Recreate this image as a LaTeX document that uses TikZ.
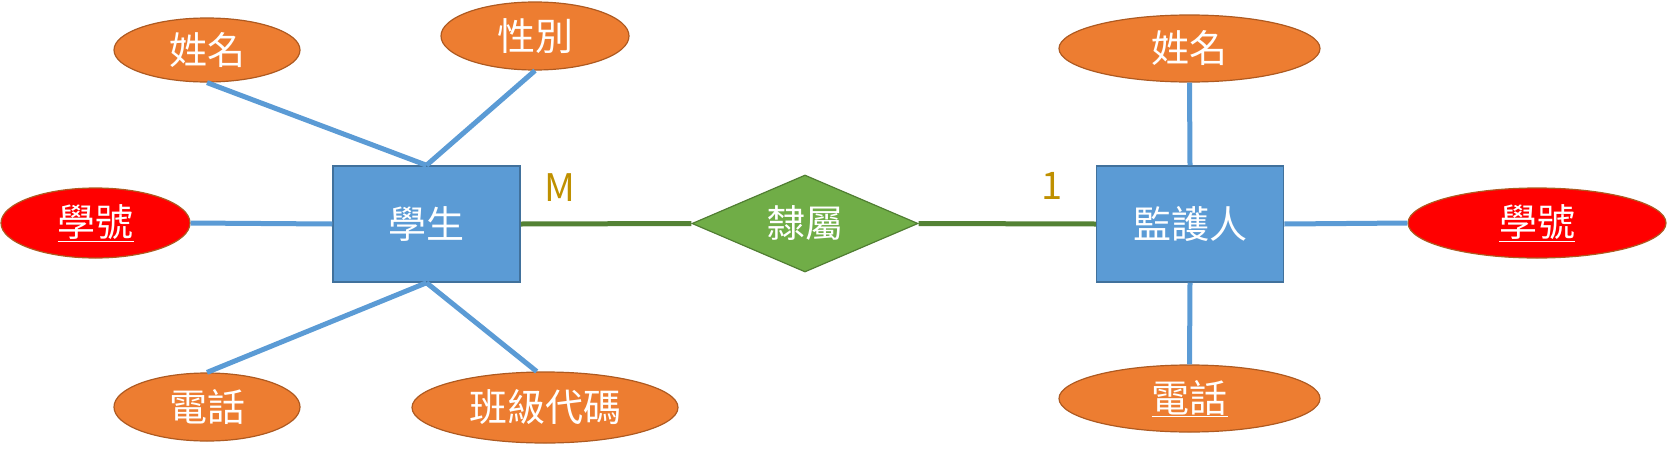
\documentclass[tikz,border=0pt]{standalone}
\usepackage{fontspec}
\setmainfont{Noto Sans CJK TC}
\usetikzlibrary{shapes.geometric}
\definecolor{attrfill}{HTML}{ED7D31}
\definecolor{attrline}{HTML}{AE5A21}
\definecolor{entfill}{HTML}{5B9BD5}
\definecolor{entline}{HTML}{41719C}
\definecolor{relfill}{HTML}{70AD47}
\definecolor{relline}{HTML}{507E32}
\definecolor{keyfill}{HTML}{FF0000}
\definecolor{link}{HTML}{5B9BD5}
\definecolor{rellink}{HTML}{548235}
\definecolor{card}{HTML}{BF9000}
\begin{document}
\begin{tikzpicture}[x=1pt,y=-1pt,
  txt/.style={text=white,font=\fontsize{38}{44}\selectfont},
  attr/.style={ellipse,draw=attrline,fill=attrfill,line width=1.2pt,inner sep=0pt,txt},
  keyattr/.style={ellipse,draw=attrline,fill=keyfill,line width=1.2pt,inner sep=0pt,txt},
  entity/.style={rectangle,draw=entline,fill=entfill,line width=1.5pt,inner sep=0pt,minimum width=187pt,minimum height=116pt,txt},
  rel/.style={diamond,draw=relline,fill=relfill,line width=1.2pt,inner sep=0pt,minimum width=226pt,minimum height=97pt,txt},
  attrlink/.style={draw=link,line width=5pt},
  rlink/.style={draw=rellink,line width=5pt},
  cardtxt/.style={text=card,font=\fontsize{38}{44}\selectfont}]
\useasboundingbox (0,0) rectangle (1668,453);
% entities
\node[entity] (stu) at (426.5,224) {學生};
\node[entity] (sup) at (1190,224) {監護人};
\node[rel,shape aspect=2.33] (rel) at (805,223.5) {隸屬};
% student attributes
\node[attr,minimum width=186pt,minimum height=64pt] (sname) at (207,50) {姓名};
\node[attr,minimum width=188pt,minimum height=68pt] (ssex) at (535,36) {性別};
\node[keyattr,minimum width=189pt,minimum height=70pt] (sid) at (95.5,223) {\underline{學號}};
\node[attr,minimum width=186pt,minimum height=68pt] (stel) at (207,407) {電話};
\node[attr,minimum width=266pt,minimum height=71pt] (sclass) at (545,407.5) {班級代碼};
% supervisor attributes
\node[attr,minimum width=261pt,minimum height=67pt] (pname) at (1189.5,48.5) {姓名};
\node[attr,minimum width=261pt,minimum height=67pt] (ptel) at (1189.5,398.5) {\underline{電話}};
\node[keyattr,minimum width=258pt,minimum height=70pt] (pid) at (1537,223) {\underline{學號}};
% connectors
\draw[attrlink] (sname.south) -- (stu.north);
\draw[attrlink] (ssex.south) -- (stu.north);
\draw[attrlink] (sid.east) -- (stu.west);
\draw[attrlink] (stel.north) -- (stu.south);
\draw[attrlink] (sclass.103) -- (stu.south);
\draw[attrlink] (pname.south) -- (sup.north);
\draw[attrlink] (ptel.north) -- (sup.south);
\draw[attrlink] (sup.east) -- (pid.west);
\draw[rlink] (stu.east) -- (rel.west);
\draw[rlink] (rel.east) -- (sup.west);
\node[cardtxt] (m) at (560,188) {M};
\node[cardtxt] (one) at (1052,186) {1};
\end{tikzpicture}
\end{document}
